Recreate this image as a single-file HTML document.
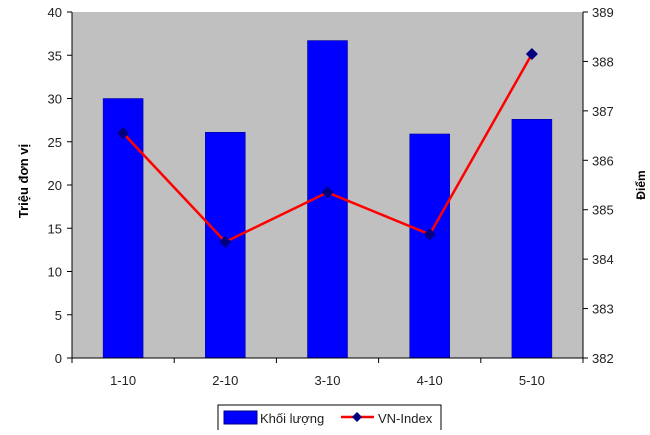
<!DOCTYPE html>
<html><head><meta charset="utf-8"><style>
body{margin:0;background:#fff;}
svg text{font-family:"Liberation Sans",Arial,sans-serif;}
</style></head><body>
<svg width="650" height="430" viewBox="0 0 650 430">
<g id="g"></g>
</svg>
<script>
const categories=["1-10","2-10","3-10","4-10","5-10"];
const volumes=[30,26.1,36.7,25.9,27.6];
const vnIndex=[386.55,384.35,385.35,384.5,388.15];
const leftTicks=[0,5,10,15,20,25,30,35,40];
const rightTicks=[382,383,384,385,386,387,388,389];
const NS="http://www.w3.org/2000/svg";
const L=72,R=583,T=12,B=358;
const yL=v=>B-(v-0)/40*(B-T);
const yR=v=>B-(v-382)/7*(B-T);
const cw=(R-L)/categories.length;
const xC=i=>L+cw*(i+0.5);
const g=document.getElementById('g');
function mk(t,a){const e=document.createElementNS(NS,t);for(const k in a)e.setAttribute(k,a[k]);g.appendChild(e);return e;}
let e=mk('rect',{x:L,y:T,width:R-L,height:B-T,fill:'#c0c0c0'});

volumes.forEach((v,i)=>{const b=mk('rect',{x:xC(i)-20,y:yL(v),width:40,height:B-yL(v),fill:'#0000ff',stroke:'#000080','stroke-width':0.5});
});
mk('line',{x1:L,y1:T,x2:L,y2:B,stroke:'#000'});
mk('line',{x1:R,y1:T,x2:R,y2:B,stroke:'#000'});
mk('line',{x1:L,y1:B,x2:R,y2:B,stroke:'#000'});
leftTicks.forEach(v=>{mk('line',{x1:L-5,y1:yL(v),x2:L,y2:yL(v),stroke:'#000'});
const t=mk('text',{x:L-10,y:yL(v)+5,'text-anchor':'end','font-size':13,fill:'#222'});t.textContent=v;
});
rightTicks.forEach(v=>{mk('line',{x1:R,y1:yR(v),x2:R+5,y2:yR(v),stroke:'#000'});
const t=mk('text',{x:R+9,y:yR(v)+5,'font-size':13,fill:'#222'});t.textContent=v;
});
for(let i=0;i<=categories.length;i++)mk('line',{x1:L+cw*i,y1:B,x2:L+cw*i,y2:B+5,stroke:'#000'});
categories.forEach((c,i)=>{const t=mk('text',{x:xC(i),y:B+27,'text-anchor':'middle','font-size':13,fill:'#222'});t.textContent=c;
});
const pl=mk('polyline',{points:vnIndex.map((v,i)=>xC(i)+','+yR(v)).join(' '),fill:'none',stroke:'#ff0000','stroke-width':2.5});

vnIndex.forEach((v,i)=>{const x=xC(i),y=yR(v);const p=mk('polygon',{points:`${x},${y-6} ${x+6},${y} ${x},${y+6} ${x-6},${y}`,fill:'#000080'});
});
let t=mk('text',{transform:'translate(28,181) rotate(-90)','text-anchor':'middle','font-size':13,'font-weight':'bold'});t.textContent='Triệu đơn vị';

t=mk('text',{transform:'translate(645,185) rotate(-90)','text-anchor':'middle','font-size':12,'font-weight':'bold'});t.textContent='Điểm';

const lg=mk('rect',{x:218,y:405,width:223,height:30,fill:'#fff',stroke:'#000'});

mk('rect',{x:224,y:411,width:33,height:13,fill:'#0000ff',stroke:'#000080'});
t=mk('text',{x:260,y:423,'font-size':13,fill:'#222'});t.textContent='Khối lượng';

mk('line',{x1:341,y1:417,x2:374,y2:417,stroke:'#ff0000','stroke-width':2.5});
mk('polygon',{points:'357,412 362,417 357,422 352,417',fill:'#000080'});
t=mk('text',{x:378,y:423,'font-size':13,fill:'#222'});t.textContent='VN-Index';

</script>
</body></html>
